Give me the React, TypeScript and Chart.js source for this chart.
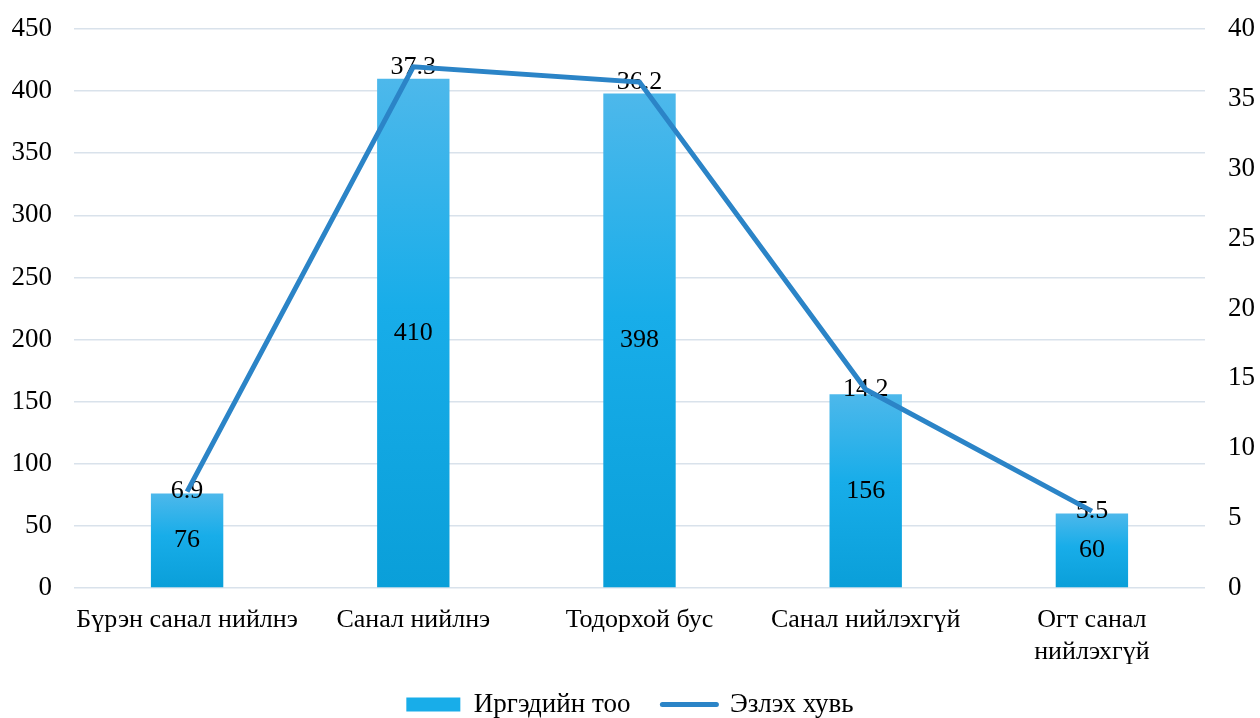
import React, { useEffect, useRef } from "react";
import { Chart, registerables } from "chart.js";

Chart.register(...registerables);

const categories: (string | string[])[] = [
  "Бүрэн санал нийлнэ",
  "Санал нийлнэ",
  "Тодорхой бус",
  "Санал нийлэхгүй",
  ["Огт санал", "нийлэхгүй"],
];
const countValues = [76, 410, 398, 156, 60];
const percentValues = [6.9, 37.3, 36.2, 14.2, 5.5];
const countLabel = "Иргэдийн тоо";
const percentLabel = "Эзлэх хувь";

const FONT = "'Liberation Serif', 'Times New Roman', serif";
const LINE_COLOR = "#2B84C7";
const LEGEND_PAD = 32;

const gradientBars = {
  id: "gradientBars",
  afterLayout(chart: any) {
    const lg = chart.legend;
    if (lg) {
      const delta = 718 + 10 - lg.bottom;
      lg.top += delta;
      lg.bottom += delta;
    }
    const x = chart.scales.x;
    if (x) x.bottom = 718;
  },
  beforeDatasetDraw(chart: any, args: any) {
    if (args.index !== 0) return;
    const ctx = chart.ctx;
    args.meta.data.forEach((el: any) => {
      const top = Math.min(el.y, el.base);
      const bottom = Math.max(el.y, el.base);
      const g = ctx.createLinearGradient(0, top, 0, bottom);
      g.addColorStop(0, "#4DB8EB");
      g.addColorStop(0.45, "#18ADE9");
      g.addColorStop(1, "#0A9FD9");
      el.options = Object.assign({}, el.options, { backgroundColor: g });
    });
  },
  afterDatasetDraw(chart: any, args: any) {
    if (args.index !== 0) return;
    const ctx = chart.ctx;
    ctx.save();
    ctx.font = `26px ${FONT}`;
    ctx.fillStyle = "#000";
    ctx.textAlign = "center";
    ctx.textBaseline = "middle";
    const barMeta = chart.getDatasetMeta(0);
    barMeta.data.forEach((el: any, i: number) => {
      ctx.fillText(String(countValues[i]), el.x, (el.y + el.base) / 2);
    });
    const lineMeta = chart.getDatasetMeta(1);
    lineMeta.data.forEach((el: any, i: number) => {
      ctx.fillText(String(percentValues[i]), el.x, el.y);
    });
    ctx.restore();
  },
};

export default function App() {
  const ref = useRef<HTMLCanvasElement>(null);
  useEffect(() => {
    document.body.style.margin = "0";
    const chart = new Chart(ref.current!, {
      type: "bar",
      data: {
        labels: categories,
        datasets: [
          {
            type: "bar",
            label: countLabel,
            data: countValues,
            backgroundColor: "#18ADE9",
            barPercentage: 0.32,
            categoryPercentage: 1,
            yAxisID: "y",
            order: 1,
          },
          {
            type: "line",
            label: percentLabel,
            data: percentValues,
            borderColor: LINE_COLOR,
            backgroundColor: LINE_COLOR,
            borderWidth: 5,
            pointRadius: 0,
            tension: 0,
            yAxisID: "y1",
            order: 0,
          } as any,
        ],
      },
      options: {
        animation: false,
        responsive: false,
        maintainAspectRatio: false,
        layout: { padding: { top: 29, bottom: 0 } },
        plugins: {
          tooltip: { enabled: false },
          legend: {
            position: "bottom",
            labels: {
              font: { family: FONT, size: 27 },
              color: "#000",
              usePointStyle: true,
              pointStyleWidth: 54,
              boxHeight: 14,
              padding: LEGEND_PAD,
              generateLabels: () => [
                {
                  text: countLabel,
                  fillStyle: "#18ADE9",
                  strokeStyle: "#18ADE9",
                  lineWidth: 0,
                  pointStyle: "rect",
                  datasetIndex: 0,
                  hidden: false,
                  fontColor: "#000",
                },
                {
                  text: percentLabel,
                  fillStyle: LINE_COLOR,
                  strokeStyle: LINE_COLOR,
                  lineWidth: 5,
                  lineCap: "round",
                  pointStyle: "line",
                  datasetIndex: 1,
                  hidden: false,
                  fontColor: "#000",
                },
              ],
            },
          },
        },
        scales: {
          x: {
            grid: { display: false },
            border: { display: false },
            ticks: {
              font: { family: FONT, size: 26, lineHeight: 1.23 },
              color: "#000",
              padding: 8,
              maxRotation: 0,
              autoSkip: false,
            },
            afterFit: (s: any) => {
              s.height = 61;
            },
          },
          y: {
            position: "left",
            min: 0,
            max: 450,
            ticks: {
              stepSize: 50,
              font: { family: FONT, size: 27 },
              color: "#000",
              padding: 6,
            },
            grid: {
              color: "#D9E2EB",
              lineWidth: 1.5,
              drawTicks: true,
              tickLength: 16,
              tickColor: "rgba(0,0,0,0)",
            },
            border: { display: false },
            afterFit: (s: any) => {
              s.width = 74;
            },
          },
          y1: {
            position: "right",
            min: 0,
            max: 40,
            ticks: {
              stepSize: 5,
              font: { family: FONT, size: 27 },
              color: "#000",
              padding: 7,
            },
            grid: {
              display: true,
              drawOnChartArea: false,
              drawTicks: true,
              tickLength: 16,
              tickColor: "rgba(0,0,0,0)",
              color: "rgba(0,0,0,0)",
            },
            border: { display: false },
            afterFit: (s: any) => {
              s.width = 55;
            },
          },
        },
      },
      plugins: [gradientBars],
    } as any);
    return () => chart.destroy();
  }, []);
  return (
    <div style={{ width: 1260, height: 718 }}>
      <canvas ref={ref} width={1260} height={718} style={{ display: "block" }} />
    </div>
  );
}
